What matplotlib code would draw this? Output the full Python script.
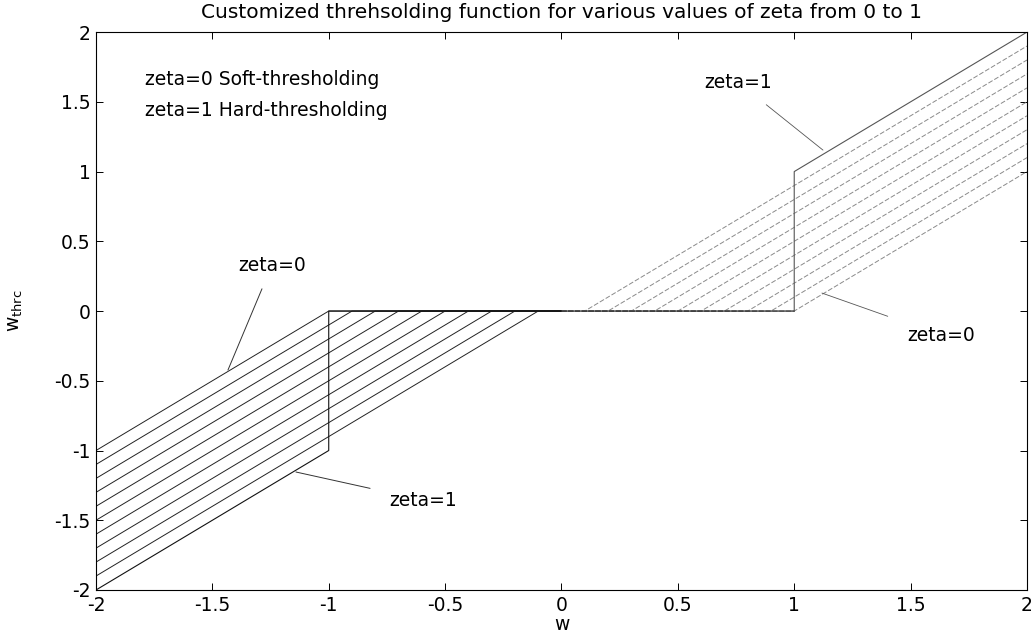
import matplotlib
matplotlib.use("Agg")
import matplotlib.pyplot as plt

# values of zeta (0 = soft, 1 = hard thresholding)
zeta = [0.0, 0.1, 0.2, 0.3, 0.4, 0.5, 0.6, 0.7, 0.8, 0.9, 1.0]
# where each curve leaves the zero band (|w| at y=0)
knee = [1.0, 0.9, 0.8, 0.7, 0.6, 0.5, 0.4, 0.3, 0.2, 0.1]
# value of each curve at w = 2
y_edge = [1.0, 1.1, 1.2, 1.3, 1.4, 1.5, 1.6, 1.7, 1.8, 1.9]
# hard thresholding curve
hard_w = [-2.0, -1.0, -1.0, 1.0, 1.0, 2.0]
hard_y = [-2.0, -1.0, 0.0, 0.0, 1.0, 2.0]

ticks = [-2, -1.5, -1, -0.5, 0, 0.5, 1, 1.5, 2]
tick_labels = ["-2", "-1.5", "-1", "-0.5", "0", "0.5", "1", "1.5", "2"]

fig = plt.figure(figsize=(10.31, 6.42), dpi=100)
ax = fig.add_axes([0.0931, 0.081, 0.9030, 0.869])

left_kw = dict(color="#222222", lw=0.7)
right_kw = dict(color="#8a8a8a", lw=0.7, ls=(0, (5, 2)))

for k, ye in zip(knee, y_edge):
    ax.plot([-2, -k, 0], [-ye, 0, 0], **left_kw)
    ax.plot([0, k, 2], [0, 0, ye], **right_kw)

ax.plot(hard_w[:4], hard_y[:4], color="#111111", lw=0.8)
ax.plot(hard_w[3:], hard_y[3:], color="#555555", lw=0.8)

fs = 13.5
txt = dict(fontsize=fs, color="black")
ax.text(-1.79, 1.66, "zeta=0 Soft-thresholding", va="center", **txt)
ax.text(-1.79, 1.44, "zeta=1 Hard-thresholding", va="center", **txt)

ax.annotate("zeta=0", xy=(-1.433, -0.423), xytext=(-1.244, 0.33), ha="center", va="center",
            arrowprops=dict(arrowstyle="-", color="#333333", lw=0.7, shrinkA=9, shrinkB=0), **txt)
ax.annotate("zeta=1", xy=(-1.141, -1.154), xytext=(-0.595, -1.355), ha="center", va="center",
            arrowprops=dict(arrowstyle="-", color="#333333", lw=0.7, shrinkA=12, shrinkB=0), **txt)
ax.annotate("zeta=1", xy=(1.1235, 1.154), xytext=(0.758, 1.642), ha="center", va="center",
            arrowprops=dict(arrowstyle="-", color="#555555", lw=0.6, shrinkA=12, shrinkB=0), **txt)
ax.annotate("zeta=0", xy=(1.119, 0.129), xytext=(1.63, -0.172), ha="center", va="center",
            arrowprops=dict(arrowstyle="-", color="#555555", lw=0.6, shrinkA=14, shrinkB=0), **txt)

ax.set_xlim(-2, 2)
ax.set_ylim(-2, 2)
ax.set_xticks(ticks)
ax.set_xticklabels(tick_labels)
ax.set_yticks(ticks)
ax.set_yticklabels(tick_labels)
ax.tick_params(direction="in", length=5, width=0.7, top=True, right=True, labelsize=fs, pad=4)
for s in ax.spines.values():
    s.set_linewidth(0.8)

ax.set_title("Customized threhsolding function for various values of zeta from 0 to 1",
             fontsize=14.5, pad=10)
ax.set_xlabel("w", fontsize=fs, labelpad=0)
ax.set_ylabel(r"w$_{\rm thrc}$", fontsize=fs, labelpad=21)

fig.savefig("out.png", dpi=100)
